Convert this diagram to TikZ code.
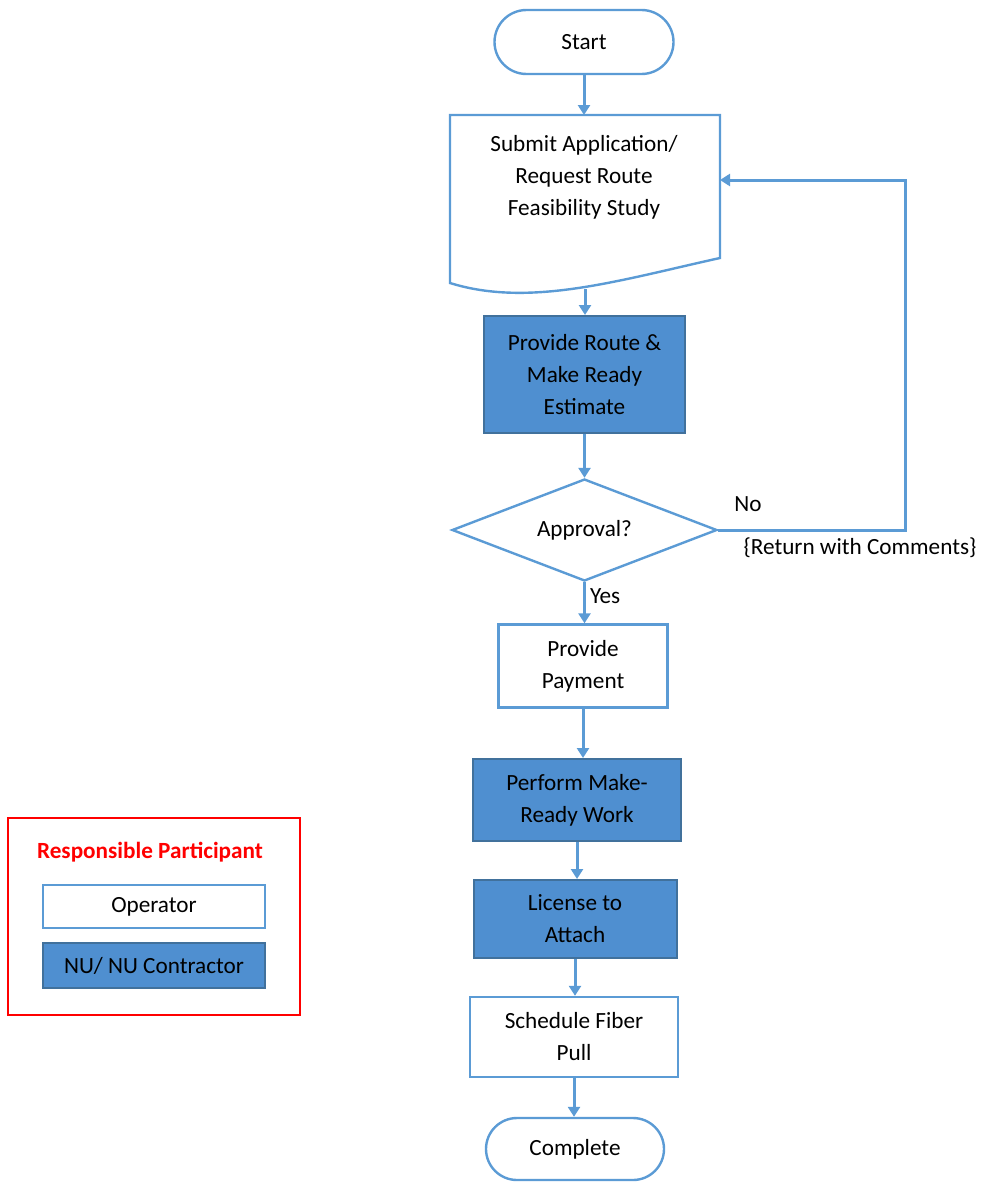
\documentclass[tikz,border=0pt]{standalone}
\usepackage{fontspec}
\setmainfont{Carlito}
\usetikzlibrary{
  shapes.geometric,
  shapes.misc,
  arrows.meta,
}
\definecolor{lineblue}{HTML}{5B9BD5}
\definecolor{fillblue}{HTML}{4F8FD0}
\definecolor{edgeblue}{HTML}{41719C}

\begin{document}
\begin{tikzpicture}[
  x=0.5pt, y=-0.5pt,
  font=\fontsize{11.6}{16}\selectfont,
  every node/.style={align=center, inner sep=0pt},
  flow/.style={draw=lineblue, line width=1.2pt},
  terminal/.style={flow, rounded rectangle, fill=white},
  opbox/.style={flow, rectangle, fill=white},
  nubox/.style={draw=edgeblue, line width=1pt, rectangle, fill=fillblue},
  decision/.style={flow, diamond, aspect=2.55, fill=white},
  link/.style={draw=lineblue, line width=1.5pt, -{Triangle[width=6pt,length=5pt]}},
]
\useasboundingbox (0,0) rectangle (985,1183);

\node[terminal, minimum width=89.5pt, minimum height=32pt] (start) at (584,42) {Start};

\draw[flow] (450,115) -- (720,115) -- (720,258) .. controls (620,280) and (530,308) .. (450,283) -- cycle;
\node (sub) at (584,177) {Submit Application/\\Request Route\\Feasibility Study};
\coordinate (subtop) at (584,115);
\coordinate (subright) at (720,180);
\coordinate (subbot) at (585,289);

\node[nubox, minimum width=100.5pt, minimum height=58.5pt] (route) at (584.5,374.5) {Provide Route \&\\Make Ready\\Estimate};
\node[decision, minimum width=132.5pt, minimum height=51pt] (appr) at (584.5,530) {Approval?};
\node[opbox, minimum width=84.5pt, minimum height=41.5pt] (pay) at (583,666) {Provide\\Payment};
\node[nubox, minimum width=104pt, minimum height=41pt] (work) at (577,800) {Perform Make-\\Ready Work};
\node[nubox, minimum width=101.5pt, minimum height=39pt] (lic) at (575,919) {License to\\Attach};
\node[opbox, minimum width=104pt, minimum height=40pt] (sched) at (574,1037) {Schedule Fiber\\Pull};
\node[terminal, minimum width=89pt, minimum height=31pt] (done) at (575,1149) {Complete};

\draw[link] (start.south) -- (subtop);
\draw[link] (subbot) -- (subbot |- route.north);
\draw[link] (route.south) -- (route.south |- appr.north);
\draw[link] (appr.south) -- node[right=2pt, pos=0.35] {Yes} (appr.south |- pay.north);
\draw[link] (pay.south) -- (pay.south |- work.north);
\draw[link] (work.south) -- (work.south |- lic.north);
\draw[link] (lic.south) -- (lic.south |- sched.north);
\draw[link] (sched.south) -- (sched.south |- done.north);

\coordinate (turn) at (905,530);
\draw[link] (appr.east) -- (turn) |- (subright);
\node (no) at (748,504) {No};
\node (ret) at (860,548) {\{Return with Comments\}};

\draw[red, line width=1.3pt] (8,818) rectangle (300,1015);
\node[text=red, font=\fontsize{11.6}{12}\selectfont\bfseries] (legtitle) at (150,852) {Responsible Participant};
\node[opbox, minimum width=111pt, minimum height=21.5pt] (legop) at (154,906.5) {Operator};
\node[nubox, minimum width=111pt, minimum height=22.5pt] (legnu) at (154,965.5) {NU/ NU Contractor};
\end{tikzpicture}
\end{document}
